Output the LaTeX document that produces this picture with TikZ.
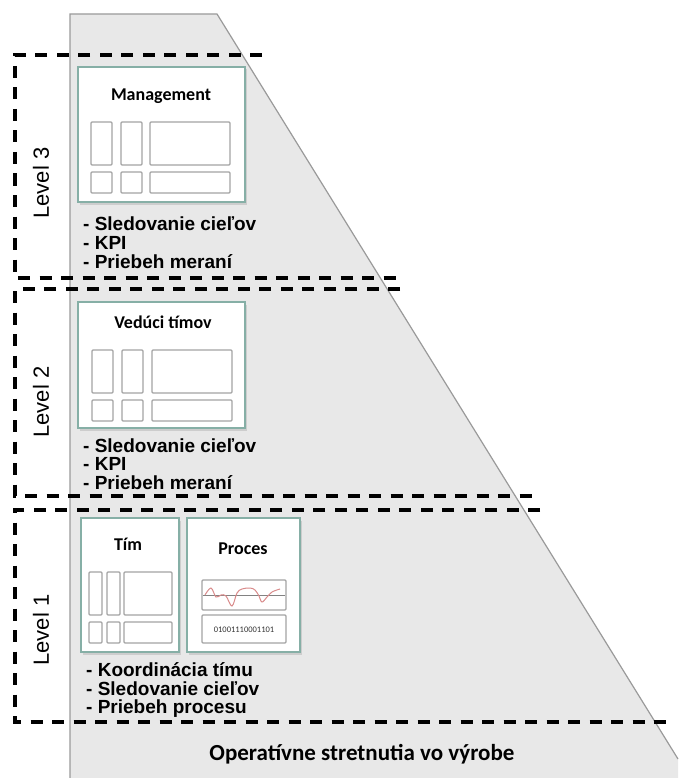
\documentclass[tikz,border=0pt]{standalone}
\usepackage{fontspec}
\setmainfont{Liberation Sans}
\newfontfamily\titlefont{Carlito}
\usetikzlibrary{shadows}
\definecolor{pyrfill}{HTML}{E8E8E8}
\definecolor{pyredge}{HTML}{9A9A9A}
\definecolor{cardedge}{HTML}{86AFA6}
\definecolor{boxedge}{HTML}{A3A3A3}
\definecolor{wave}{HTML}{D98A8A}
\tikzset{
  levelline/.style={black, line width=3.2pt, dash pattern={on 12pt off 9.5pt}},
  card/.style={draw=cardedge, line width=1.7pt, fill=white,
    drop shadow={opacity=0.25, shadow xshift=1.5pt, shadow yshift=-2.5pt}},
  pane/.style={draw=boxedge, line width=1.3pt, rounded corners=1pt},
  cardtitle/.style={font=\titlefont\bfseries\fontsize{18}{20}\selectfont, anchor=base, inner sep=0pt},
  bullet/.style={font=\bfseries\fontsize{19}{20}\selectfont, anchor=base west, inner sep=0pt},
  levellabel/.style={font=\fontsize{22}{24}\selectfont, rotate=90, inner sep=0pt},
}
\begin{document}
\begin{tikzpicture}[x=1pt,y=-1pt]
\useasboundingbox (0,0) rectangle (678,778);

% pyramid background
\fill[pyrfill] (70,14) -- (217,14) -- (678,759) -- (678,778) -- (70,778) -- cycle;
\draw[pyredge, line width=1.2pt] (70,778) -- (70,14) -- (217,14) -- (678,759);

% level frames
\draw[levelline] (262,55) -- (15,55) -- (15,278) -- (398,278);
\draw[levelline] (400,289) -- (15,289) -- (15,496) -- (533,496);
\draw[levelline] (540,510) -- (15,510) -- (15,722) -- (672,722);

\node[levellabel] (l3) at (41,183) {Level 3};
\node[levellabel] (l2) at (41,402) {Level 2};
\node[levellabel] (l1) at (41,630) {Level 1};

% level 3 card
\draw[card] (78,67) rectangle (245,202);
\node[cardtitle] (mgmt) at (161,101) {Management};
\draw[pane] (91,122) rectangle (112,165);
\draw[pane] (121,122) rectangle (142,165);
\draw[pane] (150,122) rectangle (230,165);
\draw[pane] (91,172) rectangle (112,193);
\draw[pane] (121,172) rectangle (142,193);
\draw[pane] (150,172) rectangle (230,193);
\node[bullet] (m1) at (83,230) {- Sledovanie cieľov};
\node[bullet] (m2) at (83,249) {- KPI};
\node[bullet] (m3) at (83,268) {- Priebeh meraní};

% level 2 card
\draw[card] (78,302) rectangle (245,428);
\node[cardtitle] (lead) at (163,328) {Vedúci tímov};
\draw[pane] (92,350) rectangle (113,393);
\draw[pane] (122,350) rectangle (143,393);
\draw[pane] (152,350) rectangle (232,393);
\draw[pane] (92,400) rectangle (113,421);
\draw[pane] (122,400) rectangle (143,421);
\draw[pane] (152,400) rectangle (232,421);
\node[bullet] (v1) at (83,452) {- Sledovanie cieľov};
\node[bullet] (v2) at (83,470) {- KPI};
\node[bullet] (v3) at (83,489) {- Priebeh meraní};

% level 1: team card
\draw[card] (81,518) rectangle (179,652);
\node[cardtitle] (team) at (128,550) {Tím};
\draw[pane] (89,572) rectangle (102,615);
\draw[pane] (107,572) rectangle (120,615);
\draw[pane] (124,572) rectangle (172,615);
\draw[pane] (89,622) rectangle (102,643);
\draw[pane] (107,622) rectangle (120,643);
\draw[pane] (124,622) rectangle (172,643);

% level 1: process card
\draw[card] (187,518) rectangle (300,652);
\node[cardtitle] (proc) at (243,554) {Proces};
\draw[pane] (202,580) rectangle (286,610);
\draw[boxedge!80!black, line width=0.9pt] (203,595.5) -- (285,595.5);
\draw[wave, line width=1pt] plot[smooth, tension=0.6] coordinates
  {(205,595) (211,588) (216,597) (221,595) (226,596) (232,606) (237,593) (242,589) (250,588) (255,590) (259,596) (262,602) (267,597) (272,592) (280,589)};
\draw[pane] (202,615) rectangle (286,643);
\node[font=\titlefont\fontsize{8.5}{9}\selectfont, text=black!80] (bits) at (244,629.5) {01001110001101};

\node[bullet] (t1) at (86,676) {- Koordinácia tímu};
\node[bullet] (t2) at (86,695) {- Sledovanie cieľov};
\node[bullet] (t3) at (86,713) {- Priebeh procesu};

% base caption
\node[font=\titlefont\bfseries\fontsize{23}{26}\selectfont, anchor=base, inner sep=0pt] (base) at (362,760) {Operatívne stretnutia vo výrobe};
\end{tikzpicture}
\end{document}
